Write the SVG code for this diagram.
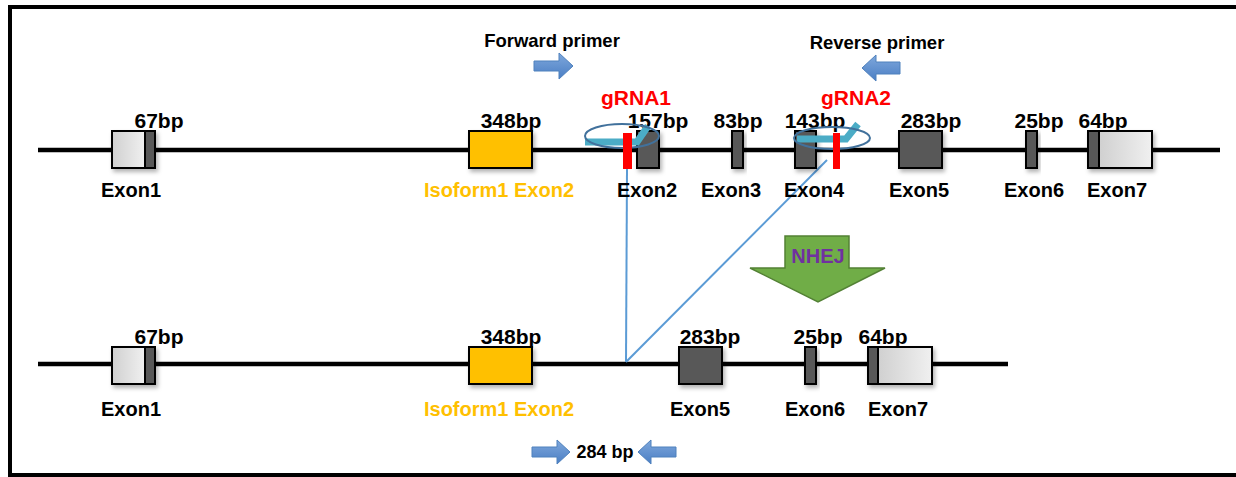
<svg xmlns="http://www.w3.org/2000/svg" width="1236" height="477" viewBox="0 0 1236 477">
<style>
.t{font-family:"Liberation Sans",Arial,sans-serif;font-weight:bold;font-size:20px;fill:#000;text-anchor:middle}
.bp{font-size:21px}
.s{font-size:18.5px}
.iso{fill:#FFC000}
.red{fill:#FF0000;font-size:21px}
.dark{fill:#595959;stroke:#000;stroke-width:2}
.light{fill:url(#lg);stroke:#000;stroke-width:2}
.yel{fill:#FFC000;stroke:#000;stroke-width:2}
.chr{stroke:#000;stroke-width:4.5;fill:none}
.cut{stroke:#5B9BD5;stroke-width:2;fill:none}
.prim{fill:url(#pg);stroke:#4F81BD;stroke-width:1}
.ell{fill:none;stroke:#41719C;stroke-width:2}
.grna{fill:none;stroke:#4BACC6;stroke-width:7;stroke-linejoin:miter}
.bar{fill:#FF0000}
</style>
<defs>
<linearGradient id="lg" x1="0" y1="0" x2="1" y2="0">
<stop offset="0" stop-color="#D0D0D0"/>
<stop offset="1" stop-color="#F0F0F0"/>
</linearGradient>
<linearGradient id="pg" x1="0" y1="0" x2="0" y2="1">
<stop offset="0" stop-color="#7FA8DC"/>
<stop offset="1" stop-color="#4A7EC4"/>
</linearGradient>
<filter id="sh" x="-20%" y="-20%" width="150%" height="150%">
<feDropShadow dx="2" dy="3" stdDeviation="2" flood-color="#000" flood-opacity="0.3"/>
</filter>
</defs>
<rect x="10" y="7" width="1400" height="468" fill="#fff" stroke="#000" stroke-width="4"/>

<g id="connectors">
<line class="chr" x1="38" y1="150" x2="1220" y2="150"/>
<line class="chr" x1="38" y1="364" x2="1008" y2="364"/>
<line class="cut" x1="627" y1="169" x2="626" y2="362"/>
<line class="cut" x1="827" y1="160" x2="626" y2="362"/>
</g>

<g id="top-exon1">
<g filter="url(#sh)">
<rect class="light" x="112" y="131" width="33" height="37"/>
<rect class="dark" x="145" y="131" width="10" height="37"/>
</g>
<text class="t bp" x="159" y="128">67bp</text>
<text class="t" x="131" y="197">Exon1</text>
</g>

<g id="top-iso-exon2">
<rect class="yel" x="469" y="131" width="63" height="37" filter="url(#sh)"/>
<text class="t bp" x="511" y="128">348bp</text>
<text class="t iso" x="499" y="197">Isoform1 Exon2</text>
</g>

<g id="top-exon2">
<rect class="dark" x="637" y="131" width="22" height="37" filter="url(#sh)"/>
<text class="t bp" x="658" y="128">157bp</text>
<text class="t" x="647" y="197">Exon2</text>
</g>

<g id="gRNA1">
<text class="t red" x="636" y="105">gRNA1</text>
<polyline class="grna" points="585,142 637,142 648,126"/>
<ellipse class="ell" cx="622" cy="136" rx="37" ry="12"/>
<rect class="bar" x="623" y="133" width="9" height="36"/>
</g>

<g id="top-exon3">
<rect class="dark" x="732" y="131" width="11" height="37" filter="url(#sh)"/>
<text class="t bp" x="738" y="128">83bp</text>
<text class="t" x="731" y="197">Exon3</text>
</g>

<g id="top-exon4">
<rect class="dark" x="795" y="131" width="21" height="37" filter="url(#sh)"/>
<text class="t bp" x="815" y="128">143bp</text>
<text class="t" x="814" y="197">Exon4</text>
</g>

<g id="gRNA2">
<text class="t red" x="856" y="105">gRNA2</text>
<polyline class="grna" points="797,139 846,139 858,124"/>
<ellipse class="ell" cx="832" cy="138" rx="38" ry="11"/>
<rect class="bar" x="833" y="133" width="7" height="36"/>
</g>

<g id="top-exon5">
<rect class="dark" x="899" y="131" width="43" height="37" filter="url(#sh)"/>
<text class="t bp" x="931" y="128">283bp</text>
<text class="t" x="919" y="197">Exon5</text>
</g>

<g id="top-exon6">
<rect class="dark" x="1026" y="131" width="11" height="37" filter="url(#sh)"/>
<text class="t bp" x="1039" y="128">25bp</text>
<text class="t" x="1034" y="197">Exon6</text>
</g>

<g id="top-exon7">
<g filter="url(#sh)">
<rect class="light" x="1099" y="131" width="53" height="37"/>
<rect class="dark" x="1088" y="131" width="11" height="37"/>
</g>
<text class="t bp" x="1103" y="128">64bp</text>
<text class="t" x="1117" y="197">Exon7</text>
</g>

<g id="forward-primer">
<text class="t s" x="552" y="47">Forward primer</text>
<path class="prim" d="M534,61 H559 V53 L573,66 L559,79 V71 H534 Z"/>
</g>

<g id="reverse-primer">
<text class="t s" x="877" y="49">Reverse primer</text>
<path class="prim" d="M900,62 H876 V55 L862,68 L876,81 V74 H900 Z"/>
</g>

<g id="nhej">
<path d="M785,236 H849 V268 H885 L818,302 L750,268 H785 Z" fill="#70AD47" stroke="#538135" stroke-width="1.5"/>
<text class="t" x="818" y="263" style="fill:#7030A0;font-size:20px">NHEJ</text>
</g>

<g id="bot-exon1">
<g filter="url(#sh)">
<rect class="light" x="112" y="347" width="33" height="37"/>
<rect class="dark" x="145" y="347" width="10" height="37"/>
</g>
<text class="t bp" x="159" y="344">67bp</text>
<text class="t" x="131" y="416">Exon1</text>
</g>

<g id="bot-iso-exon2">
<rect class="yel" x="469" y="347" width="63" height="37" filter="url(#sh)"/>
<text class="t bp" x="511" y="344">348bp</text>
<text class="t iso" x="499" y="416">Isoform1 Exon2</text>
</g>

<g id="bot-exon5">
<rect class="dark" x="679" y="347" width="43" height="37" filter="url(#sh)"/>
<text class="t bp" x="710" y="344">283bp</text>
<text class="t" x="700" y="416">Exon5</text>
</g>

<g id="bot-exon6">
<rect class="dark" x="805" y="347" width="11" height="37" filter="url(#sh)"/>
<text class="t bp" x="818" y="344">25bp</text>
<text class="t" x="815" y="416">Exon6</text>
</g>

<g id="bot-exon7">
<g filter="url(#sh)">
<rect class="light" x="878" y="347" width="54" height="37"/>
<rect class="dark" x="868" y="347" width="10" height="37"/>
</g>
<text class="t bp" x="883" y="344">64bp</text>
<text class="t" x="898" y="416">Exon7</text>
</g>

<g id="product">
<path class="prim" d="M532,447 H557 V440 L570,452 L557,464 V457 H532 Z"/>
<text class="t s" x="605" y="458" style="font-size:18px">284 bp</text>
<path class="prim" d="M676,447 H651 V440 L638,452 L651,464 V457 H676 Z"/>
</g>
</svg>
